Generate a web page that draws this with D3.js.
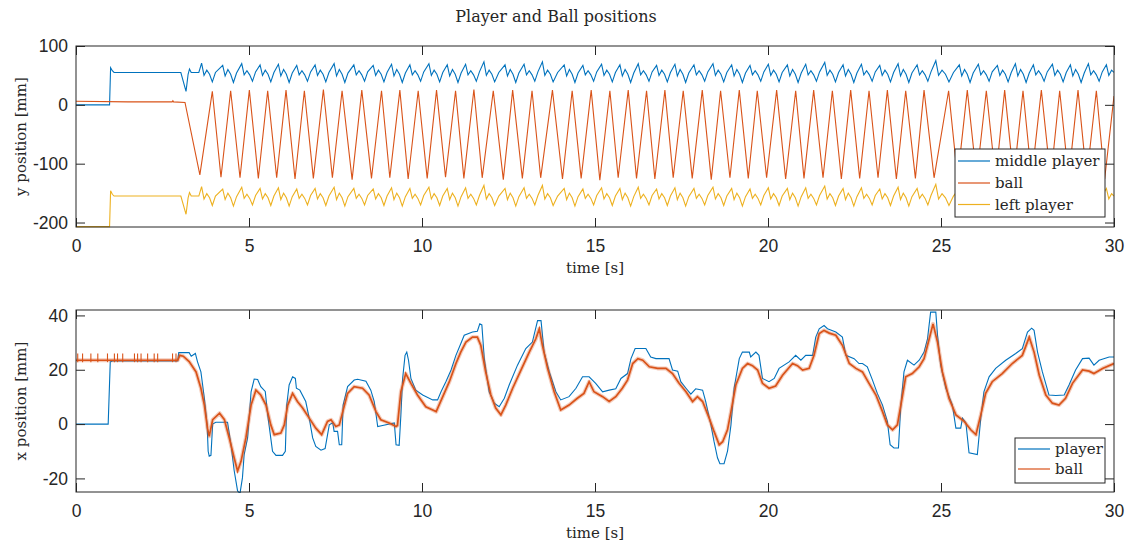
<!DOCTYPE html>
<html>
<head>
<meta charset="utf-8">
<script src="https://cdn.jsdelivr.net/npm/d3@7"></script>
<style>
  body { margin: 0; background: #fff; }
  svg { display: block; }
  .tick text { font-family: "Liberation Sans", Arial, sans-serif; font-size: 17.5px; fill: #262626; }
  .tick line { stroke: #262626; }
  .lbl { font-family: "DejaVu Serif", serif; font-size: 15px; fill: #262626; }
</style>
</head>
<body>
<svg id="chart" width="1133" height="544"></svg>
<script>
// ---------- data ----------
var xTicks = [0, 5, 10, 15, 20, 25, 30];
var yTicksTop = [-200, -100, 0, 100];
var yTicksBottom = [-20, 0, 20, 40];
var legendTop = ["middle player", "ball", "left player"];
var legendBottom = ["player", "ball"];

// top panel: players, shared time base [s]
var playerT = [
  0, 0.97, 1.00, 1.05, 1.10, 3.03, 3.18, 3.24, 3.28, 3.33, 3.55,
  3.63, 3.70, 3.78, 3.86, 3.94, 4.03,
  4.24, 4.31, 4.39, 4.47, 4.55, 4.64,
  4.79, 4.86, 4.94, 5.02, 5.10, 5.19,
  5.32, 5.39, 5.47, 5.55, 5.63, 5.72,
  5.85, 5.92, 6.00, 6.08, 6.16, 6.25,
  6.38, 6.45, 6.53, 6.61, 6.69, 6.78,
  6.91, 6.98, 7.06, 7.14, 7.22, 7.31,
  7.46, 7.53, 7.61, 7.69, 7.77, 7.86,
  8.03, 8.10, 8.18, 8.26, 8.34, 8.43,
  8.59, 8.66, 8.74, 8.82, 8.90, 8.99,
  9.12, 9.19, 9.27, 9.35, 9.43, 9.52,
  9.65, 9.72, 9.80, 9.88, 9.96, 10.05,
  10.20, 10.27, 10.35, 10.43, 10.51, 10.60,
  10.73, 10.80, 10.88, 10.96, 11.04, 11.13,
  11.26, 11.33, 11.41, 11.49, 11.57, 11.66,
  11.79, 11.86, 11.94, 12.02, 12.10, 12.22,
  12.40, 12.47, 12.55, 12.63, 12.71, 12.80,
  12.95, 13.02, 13.10, 13.18, 13.26, 13.35,
  13.48, 13.55, 13.63, 13.71, 13.79, 13.92,
  14.11, 14.18, 14.26, 14.34, 14.42, 14.51,
  14.65, 14.72, 14.80, 14.88, 14.96, 15.05,
  15.19, 15.26, 15.34, 15.42, 15.50, 15.59,
  15.72, 15.79, 15.87, 15.95, 16.03, 16.12,
  16.25, 16.32, 16.40, 16.48, 16.56, 16.65,
  16.78, 16.85, 16.93, 17.01, 17.09, 17.18,
  17.31, 17.38, 17.46, 17.54, 17.62, 17.71,
  17.86, 17.93, 18.01, 18.09, 18.17, 18.26,
  18.41, 18.48, 18.56, 18.64, 18.72, 18.81,
  18.95, 19.02, 19.10, 19.18, 19.26, 19.35,
  19.48, 19.55, 19.63, 19.71, 19.79, 19.88,
  20.01, 20.08, 20.16, 20.24, 20.32, 20.41,
  20.56, 20.63, 20.71, 20.79, 20.87, 20.96,
  21.09, 21.16, 21.24, 21.32, 21.40, 21.49,
  21.64, 21.71, 21.79, 21.87, 21.95, 22.04,
  22.17, 22.24, 22.32, 22.40, 22.48, 22.57,
  22.70, 22.77, 22.85, 22.93, 23.01, 23.10,
  23.23, 23.30, 23.38, 23.46, 23.54, 23.63,
  23.76, 23.83, 23.91, 23.99, 24.07, 24.16,
  24.31, 24.38, 24.46, 24.54, 24.62, 24.71,
  24.85, 24.93, 25.03, 25.13, 25.23, 25.36,
  25.53, 25.60, 25.68, 25.76, 25.84, 25.93,
  26.08, 26.15, 26.23, 26.31, 26.39, 26.48,
  26.63, 26.70, 26.78, 26.86, 26.94, 27.03,
  27.15, 27.22, 27.30, 27.38, 27.46, 27.55,
  27.67, 27.74, 27.82, 27.90, 27.98, 28.07,
  28.22, 28.29, 28.37, 28.45, 28.53, 28.62,
  28.74, 28.81, 28.89, 28.97, 29.05, 29.14,
  29.26, 29.33, 29.41, 29.49, 29.57, 29.66,
  29.78, 29.85, 29.93, 30.00
];

var middleY = [
  0, 0, 63, 58, 55, 55, 23, 52, 61, 55, 55,
  71, 50, 59, 52, 39, 55,
  67, 49, 60, 52, 38, 54,
  70, 51, 58, 51, 40, 56,
  68, 50, 59, 52, 39, 55,
  69, 49, 60, 52, 38, 54,
  67, 51, 58, 51, 40, 56,
  68, 50, 59, 52, 39, 55,
  70, 49, 60, 52, 38, 54,
  68, 51, 58, 51, 40, 56,
  67, 50, 59, 52, 39, 55,
  69, 49, 60, 52, 38, 54,
  68, 51, 58, 51, 40, 56,
  70, 50, 59, 52, 39, 55,
  68, 49, 60, 52, 38, 54,
  69, 51, 58, 51, 40, 56,
  73, 50, 59, 52, 39, 55,
  68, 49, 60, 52, 38, 54,
  69, 51, 58, 51, 40, 56,
  73, 50, 59, 52, 39, 55,
  68, 49, 60, 52, 38, 54,
  67, 51, 58, 51, 40, 56,
  69, 50, 59, 52, 39, 55,
  68, 49, 60, 52, 38, 54,
  70, 51, 58, 51, 40, 56,
  67, 50, 59, 52, 39, 55,
  69, 49, 60, 52, 38, 54,
  68, 51, 58, 51, 40, 56,
  70, 50, 59, 52, 39, 55,
  68, 49, 60, 52, 38, 54,
  67, 51, 58, 51, 40, 56,
  69, 50, 59, 52, 39, 55,
  68, 49, 60, 52, 38, 54,
  69, 51, 58, 51, 40, 56,
  72, 50, 59, 52, 39, 55,
  68, 49, 60, 52, 38, 54,
  69, 51, 58, 51, 40, 56,
  67, 50, 59, 52, 39, 55,
  70, 49, 60, 52, 38, 54,
  68, 51, 58, 51, 40, 56,
  75, 50, 59, 52, 39, 55,
  68, 49, 60, 52, 38, 54,
  69, 51, 58, 51, 40, 56,
  67, 50, 59, 52, 39, 55,
  70, 49, 60, 52, 38, 54,
  68, 51, 58, 51, 40, 56,
  69, 50, 59, 52, 39, 55,
  68, 49, 60, 52, 38, 54,
  70, 51, 58, 51, 40, 56,
  68, 50, 59, 55
];

var leftY = [
  -207, -207, -146, -152, -155, -155, -186, -158, -149, -155, -155,
  -139, -160, -151, -158, -171, -155,
  -143, -161, -150, -158, -172, -156,
  -140, -159, -152, -159, -170, -154,
  -142, -160, -151, -158, -171, -155,
  -141, -161, -150, -158, -172, -156,
  -143, -159, -152, -159, -170, -154,
  -142, -160, -151, -158, -171, -155,
  -140, -161, -150, -158, -172, -156,
  -142, -159, -152, -159, -170, -154,
  -143, -160, -151, -158, -171, -155,
  -141, -161, -150, -158, -172, -156,
  -142, -159, -152, -159, -170, -154,
  -140, -160, -151, -158, -171, -155,
  -142, -161, -150, -158, -172, -156,
  -141, -159, -152, -159, -170, -154,
  -137, -160, -151, -158, -171, -155,
  -142, -161, -150, -158, -172, -156,
  -141, -159, -152, -159, -170, -154,
  -137, -160, -151, -158, -171, -155,
  -142, -161, -150, -158, -172, -156,
  -143, -159, -152, -159, -170, -154,
  -141, -160, -151, -158, -171, -155,
  -142, -161, -150, -158, -172, -156,
  -140, -159, -152, -159, -170, -154,
  -143, -160, -151, -158, -171, -155,
  -141, -161, -150, -158, -172, -156,
  -142, -159, -152, -159, -170, -154,
  -140, -160, -151, -158, -171, -155,
  -142, -161, -150, -158, -172, -156,
  -143, -159, -152, -159, -170, -154,
  -141, -160, -151, -158, -171, -155,
  -142, -161, -150, -158, -172, -156,
  -141, -159, -152, -159, -170, -154,
  -138, -160, -151, -158, -171, -155,
  -142, -161, -150, -158, -172, -156,
  -141, -159, -152, -159, -170, -154,
  -143, -160, -151, -158, -171, -155,
  -140, -161, -150, -158, -172, -156,
  -142, -159, -152, -159, -170, -154,
  -135, -160, -151, -158, -171, -155,
  -142, -161, -150, -158, -172, -156,
  -141, -159, -152, -159, -170, -154,
  -143, -160, -151, -158, -171, -155,
  -140, -161, -150, -158, -172, -156,
  -142, -159, -152, -159, -170, -154,
  -141, -160, -151, -158, -171, -155,
  -142, -161, -150, -158, -172, -156,
  -140, -159, -152, -159, -170, -154,
  -142, -160, -151, -155
];

// top panel: ball y (zig-zag between the walls)
var ballStart = [[0, 6], [1.5, 5], [2.78, 5], [2.80, 7], [2.82, 5], [3.15, 4]];
var ballTroughT = [3.58, 4.19, 4.74, 5.27, 5.80, 6.33, 6.86, 7.41, 7.98, 8.54,
  9.07, 9.60, 10.15, 10.68, 11.21, 11.74, 12.35, 12.90, 13.43, 14.06,
  14.60, 15.14, 15.67, 16.20, 16.73, 17.26, 17.81, 18.36, 18.90, 19.43,
  19.96, 20.51, 21.04, 21.59, 22.12, 22.65, 23.18, 23.71, 24.26, 24.80,
  25.48, 26.03, 26.58, 27.10, 27.62, 28.17, 28.69, 29.21, 29.73];
var ballTroughY = [-119, -123, -124, -125, -124, -126, -125, -124, -127, -125,
  -124, -126, -125, -123, -125, -124, -127, -125, -124, -126,
  -125, -128, -124, -125, -126, -124, -125, -127, -124, -125,
  -124, -126, -125, -124, -126, -125, -124, -126, -125, -124,
  -125, -124, -126, -125, -124, -126, -125, -124, -126];
var ballPeakT = [3.94, 4.47, 5.01, 5.54, 6.07, 6.60, 7.15, 7.69, 8.26, 8.83,
  9.36, 9.89, 10.42, 10.97, 11.50, 12.06, 12.62, 13.18, 13.77, 14.34,
  14.89, 15.43, 15.96, 16.49, 17.02, 17.55, 18.10, 18.63, 19.17, 19.69,
  20.25, 20.80, 21.32, 21.86, 22.39, 22.92, 23.45, 23.98, 24.51, 25.22,
  25.76, 26.31, 26.84, 27.37, 27.90, 28.43, 28.96, 29.49];
var ballPeakY = [23, 24, 25, 24, 25, 24, 26, 24, 25, 24,
  25, 24, 25, 24, 26, 24, 25, 24, 25, 24,
  25, 24, 25, 24, 25, 24, 25, 24, 25, 24,
  25, 24, 25, 24, 25, 24, 25, 24, 25, 24,
  25, 24, 25, 24, 25, 24, 25, 24];
var ballEnd = [30, 15];

// bottom panel: x position of player and ball [t, mm]
var playerX = [[0,0],[0.93,0],[0.99,22.9],[1.05,23.2],[2.94,23.2],[2.97,26.3],[3.27,26.3],[3.33,25],[3.45,26],[3.51,23],
  [3.61,19.2],[3.71,9.5],[3.79,-0.3],[3.82,-10],[3.85,-11.8],[3.9,-11.5],[3.95,0],[4.04,0.7],[4.38,0.7],[4.48,-7.6],
  [4.57,-17],[4.67,-24.6],[4.74,-25.5],[4.81,-19.8],[4.86,-11.2],[4.96,-5.1],[5.06,11.9],[5.15,16.6],[5.25,16.4],[5.34,13.8],
  [5.47,12],[5.54,3.4],[5.68,-10],[5.78,-11.5],[5.97,-11.5],[6.05,-10],[6.09,7],[6.16,14.4],[6.26,17.4],[6.34,16.8],
  [6.37,13.2],[6.47,12.5],[6.64,8.3],[6.74,2.2],[6.84,-5.1],[6.93,-8.2],[7.08,-9.6],[7.2,-9],[7.32,-0.3],[7.42,0.5],
  [7.46,-2.7],[7.56,-2.7],[7.61,-7.6],[7.68,-7.6],[7.72,7],[7.85,13.8],[8.04,16.2],[8.14,16.5],[8.38,15.8],[8.52,12.5],
  [8.62,8.3],[8.72,-0.9],[8.86,-0.5],[9.2,0.4],[9.25,-7.6],[9.34,-7.8],[9.39,3.4],[9.44,16.8],[9.51,25.3],[9.56,26.5],
  [9.61,23.5],[9.68,16.8],[9.82,12.5],[10.02,10.7],[10.31,8.9],[10.45,8.9],[10.55,11.9],[10.69,15.6],[10.84,19.9],[10.98,25.3],
  [11.12,29.6],[11.22,32.7],[11.46,33.9],[11.6,34.2],[11.67,36.9],[11.73,36.5],[11.8,24.1],[11.94,11.9],[12.09,7.7],[12.23,6.4],
  [12.38,9.5],[12.52,14.4],[12.76,21.7],[13.0,27.8],[13.19,30.2],[13.34,38.1],[13.44,38.1],[13.53,26.5],[13.68,19.2],[13.87,11.9],
  [14.01,8.9],[14.25,10.1],[14.45,13.2],[14.64,17.4],[14.83,17.4],[15.02,15],[15.22,11.9],[15.41,12.5],[15.6,13],[15.75,16.8],
  [15.94,18.6],[16.04,24.1],[16.16,27.8],[16.47,27.8],[16.61,24.7],[16.76,24.1],[17.14,24.1],[17.24,19.9],[17.39,19.5],[17.48,15.6],
  [17.63,13.2],[17.77,11],[17.91,13],[18.11,12.5],[18.2,8.3],[18.35,-0.3],[18.44,-6.4],[18.54,-12.4],[18.61,-14.6],[18.73,-14.6],
  [18.83,-10],[18.93,-0.3],[19.02,13.2],[19.17,24.1],[19.26,26.5],[19.46,26.5],[19.5,24.7],[19.65,26.5],[19.74,25.3],[19.84,16.8],
  [20.03,15.6],[20.18,16.8],[20.32,20.5],[20.61,22.9],[20.8,25.3],[20.95,23.5],[21.09,25.3],[21.29,25.3],[21.38,32],[21.48,35.1],
  [21.62,36.3],[21.72,35.1],[21.96,33.9],[22.15,32],[22.25,25.3],[22.49,24.1],[22.63,22.3],[22.73,22.3],[22.87,21.1],[23.02,16.2],
  [23.16,11.3],[23.31,7],[23.45,1],[23.53,-7.6],[23.64,-8.8],[23.77,-8.8],[23.84,7],[23.93,19.2],[24.03,23.5],[24.22,21.7],
  [24.37,23.5],[24.51,26.5],[24.61,31.4],[24.7,41.2],[24.85,41.2],[24.9,32.7],[24.99,21.7],[25.14,13.2],[25.33,7],[25.43,-1.5],
  [25.57,-1.5],[25.62,2.2],[25.72,0.4],[25.81,-10.6],[26.05,-11.2],[26.15,2.2],[26.24,11.9],[26.39,17.4],[26.58,20.5],[26.87,23.5],
  [27.16,26],[27.35,27.8],[27.5,33.9],[27.62,35.3],[27.69,34.5],[27.79,26.5],[27.93,19.2],[28.12,10.7],[28.32,10.5],[28.56,10.7],
  [28.7,14.4],[28.89,19.9],[29.09,24.1],[29.28,24.3],[29.42,21.7],[29.57,23.5],[29.86,24.7],[30,24.7]];

var ballX = [[0,23.5],[2.94,23.5],[3.0,25.3],[3.1,25],[3.27,23],[3.47,19.2],[3.61,13.2],[3.71,7],[3.8,-1.5],[3.85,-4.5],
  [3.95,1.6],[4.15,4],[4.29,1.6],[4.43,-5.1],[4.57,-12.4],[4.67,-17.3],[4.77,-13.7],[4.91,-5.1],[5.06,7],[5.2,12.5],
  [5.34,10.7],[5.49,7],[5.63,-0.3],[5.73,-3.9],[5.92,-3.3],[6.02,-0.3],[6.12,7],[6.26,11.3],[6.4,8.3],[6.55,5.9],
  [6.74,2.2],[6.93,-1.5],[7.1,-3.9],[7.27,1],[7.37,1.6],[7.51,-0.9],[7.61,-0.3],[7.71,4.6],[7.85,11.3],[8.04,13.8],
  [8.28,13.2],[8.47,10.7],[8.67,4.6],[8.81,1.6],[9.05,0.4],[9.25,-0.9],[9.29,-0.5],[9.39,11.9],[9.53,18.6],[9.68,15],
  [9.87,10.7],[10.11,6.4],[10.31,5.2],[10.41,4.6],[10.6,10.1],[10.79,15.6],[10.98,22.3],[11.12,26.5],[11.27,30.2],[11.46,32],
  [11.6,32],[11.7,29],[11.84,19.2],[11.99,10.7],[12.13,5.9],[12.28,3.4],[12.42,7],[12.62,13.2],[12.86,19.9],[13.1,26.5],
  [13.29,31.4],[13.39,35.1],[13.48,29],[13.63,20.5],[13.82,11.9],[14.01,5.2],[14.25,7],[14.49,9.5],[14.68,11.3],[14.83,15.6],
  [14.97,11.9],[15.22,10.1],[15.41,8.3],[15.6,10.1],[15.79,13.2],[15.94,16.2],[16.09,22.3],[16.24,24.1],[16.38,23.5],[16.57,21.1],
  [16.81,20.5],[17.05,20.5],[17.24,18.6],[17.43,15],[17.63,11.9],[17.82,8.3],[17.96,10.1],[18.11,8.3],[18.3,2.2],[18.44,-2.7],
  [18.59,-7.6],[18.69,-6.5],[18.83,-2.1],[18.93,4.6],[19.07,14.4],[19.26,20.5],[19.41,22.3],[19.55,21.5],[19.7,19.9],[19.84,15],
  [20.03,13.2],[20.22,14],[20.42,18],[20.71,22.3],[20.85,21.5],[21,19.9],[21.19,20.5],[21.33,25.3],[21.48,33.3],[21.62,34.5],
  [21.77,33.5],[21.96,32.7],[22.15,29],[22.35,22.3],[22.54,20.5],[22.73,19.2],[22.92,15],[23.12,10.7],[23.31,4.6],[23.45,-0.3],
  [23.6,-2.1],[23.74,-0.3],[23.84,7],[23.98,17.4],[24.17,18.6],[24.37,21.1],[24.51,24.1],[24.66,31.4],[24.77,36.9],[24.9,30.2],
  [25.04,19.2],[25.23,9.5],[25.43,3.4],[25.67,1],[25.86,-2.1],[26.01,-3.9],[26.15,3.4],[26.29,11.3],[26.48,15.6],[26.77,18.6],
  [27.06,22.3],[27.35,25.3],[27.55,32],[27.69,26.5],[27.84,18],[28.03,10.7],[28.22,7.7],[28.41,7],[28.6,9.5],[28.8,15],
  [29.09,19.9],[29.28,19.5],[29.42,18.6],[29.67,20.5],[30,22.3]];

// short vertical glitches of the ball x signal while it rests (t < 3 s)
var ballXSpikeT = [0.05, 0.19, 0.43, 0.63, 0.91, 1.11, 1.2, 1.35, 1.69, 1.78, 1.88, 2.07, 2.26, 2.36, 2.79, 2.89];

// ---------- drawing ----------
var colors = ["#0072BD", "#D95319", "#EDB120"];
var svg = d3.select("#chart");
var plain = function (d) { return String(d); }; // hyphen minus like MATLAB

svg.append("text").attr("class", "lbl")
  .attr("x", 556).attr("y", 22)
  .attr("text-anchor", "middle")
  .style("font-size", "16px")
  .text("Player and Ball positions");

function makePanel(y0, y1, yDomain, yTicks, yLabel, clipId) {
  var x = d3.scaleLinear().domain([0, 30]).range([76, 1114]);
  var y = d3.scaleLinear().domain(yDomain).range([y1, y0]);
  var g = svg.append("g");

  g.append("clipPath").attr("id", clipId).append("rect")
    .attr("x", 76).attr("y", y0 - 1).attr("width", 1114 - 76).attr("height", y1 - y0 + 2);

  var plot = g.append("g").attr("clip-path", "url(#" + clipId + ")");

  // axes with inward ticks on all four sides
  g.append("g").attr("transform", "translate(0," + y1 + ")")
    .call(d3.axisBottom(x).tickValues(xTicks).tickFormat(plain).tickSizeInner(-9).tickSizeOuter(0).tickPadding(13));
  g.append("g").attr("transform", "translate(0," + y0 + ")")
    .call(d3.axisTop(x).tickValues(xTicks).tickSizeInner(-9).tickSizeOuter(0).tickFormat(""));
  g.append("g").attr("transform", "translate(76,0)")
    .call(d3.axisLeft(y).tickValues(yTicks).tickFormat(plain).tickSizeInner(-9).tickSizeOuter(0).tickPadding(8));
  g.append("g").attr("transform", "translate(1114,0)")
    .call(d3.axisRight(y).tickValues(yTicks).tickSizeInner(-9).tickSizeOuter(0).tickFormat(""));
  g.selectAll(".domain").remove();

  g.append("rect")
    .attr("x", 76).attr("y", y0).attr("width", 1114 - 76).attr("height", y1 - y0)
    .attr("fill", "none").attr("stroke", "#262626").attr("stroke-width", 1);

  g.append("text").attr("class", "lbl")
    .attr("x", 595).attr("y", y1 + 46)
    .attr("text-anchor", "middle")
    .text("time [s]");

  g.append("text").attr("class", "lbl")
    .attr("transform", "translate(26," + (y0 + y1) / 2 + ") rotate(-90)")
    .attr("text-anchor", "middle")
    .text(yLabel);

  return { x: x, y: y, g: g, plot: plot };
}

function drawLegend(g, x0, y0, w, h, names, rowY) {
  g.append("rect").attr("x", x0).attr("y", y0).attr("width", w).attr("height", h)
    .attr("fill", "#fff").attr("stroke", "#262626").attr("stroke-width", 1);
  names.forEach(function (n, i) {
    g.append("line")
      .attr("x1", x0 + 3).attr("x2", x0 + 35)
      .attr("y1", rowY[i]).attr("y2", rowY[i])
      .attr("stroke", colors[i]).attr("stroke-width", 1.2);
    g.append("text").attr("class", "lbl")
      .attr("x", x0 + 40).attr("y", rowY[i] + 5)
      .text(n);
  });
}

// ----- top panel -----
var pTop = makePanel(46, 227, [-207.6, 100], yTicksTop, "y position [mm]", "clipTop");
var lineTop = d3.line().x(function (d) { return pTop.x(d[0]); }).y(function (d) { return pTop.y(d[1]); });

var middleData = playerT.map(function (t, i) { return [t, middleY[i]]; });
var leftData = playerT.map(function (t, i) { return [t, leftY[i]]; });
var ballVertices = ballTroughT.map(function (t, i) { return [t, ballTroughY[i]]; })
  .concat(ballPeakT.map(function (t, i) { return [t, ballPeakY[i]]; }))
  .sort(function (a, b) { return a[0] - b[0]; });
var ballData = ballStart.concat(ballVertices, [ballEnd]);

pTop.plot.append("path").datum(middleData).attr("d", lineTop)
  .attr("fill", "none").attr("stroke", colors[0]).attr("stroke-width", 1.1);
pTop.plot.append("path").datum(ballData).attr("d", lineTop)
  .attr("fill", "none").attr("stroke", colors[1]).attr("stroke-width", 1.1);
pTop.plot.append("path").datum(leftData).attr("d", lineTop)
  .attr("fill", "none").attr("stroke", colors[2]).attr("stroke-width", 1.1);

drawLegend(pTop.g, 955, 149, 150, 68, legendTop, [161, 183, 204.5]);

// ----- bottom panel -----
var pBot = makePanel(310, 492, [-25, 42], yTicksBottom, "x position [mm]", "clipBot");
var lineBot = d3.line().x(function (d) { return pBot.x(d[0]); }).y(function (d) { return pBot.y(d[1]); });

pBot.plot.append("path").datum(playerX).attr("d", lineBot)
  .attr("fill", "none").attr("stroke", colors[0]).attr("stroke-width", 1.1);

// ball x is noisy: a soft wide band plus the core trace
pBot.plot.append("path").datum(ballX).attr("d", lineBot)
  .attr("fill", "none").attr("stroke", colors[1]).attr("stroke-width", 4)
  .attr("stroke-opacity", 0.3).attr("stroke-linejoin", "round");
pBot.plot.append("path").datum(ballX).attr("d", lineBot)
  .attr("fill", "none").attr("stroke", colors[1]).attr("stroke-width", 1.7);
pBot.plot.selectAll("line.spike").data(ballXSpikeT).enter().append("line")
  .attr("class", "spike")
  .attr("x1", function (d) { return pBot.x(d); }).attr("x2", function (d) { return pBot.x(d); })
  .attr("y1", pBot.y(22.8)).attr("y2", pBot.y(26))
  .attr("stroke", colors[1]).attr("stroke-width", 1.1);

drawLegend(pBot.g, 1015, 438, 90, 45, legendBottom, [449, 469]);
</script>
</body>
</html>
